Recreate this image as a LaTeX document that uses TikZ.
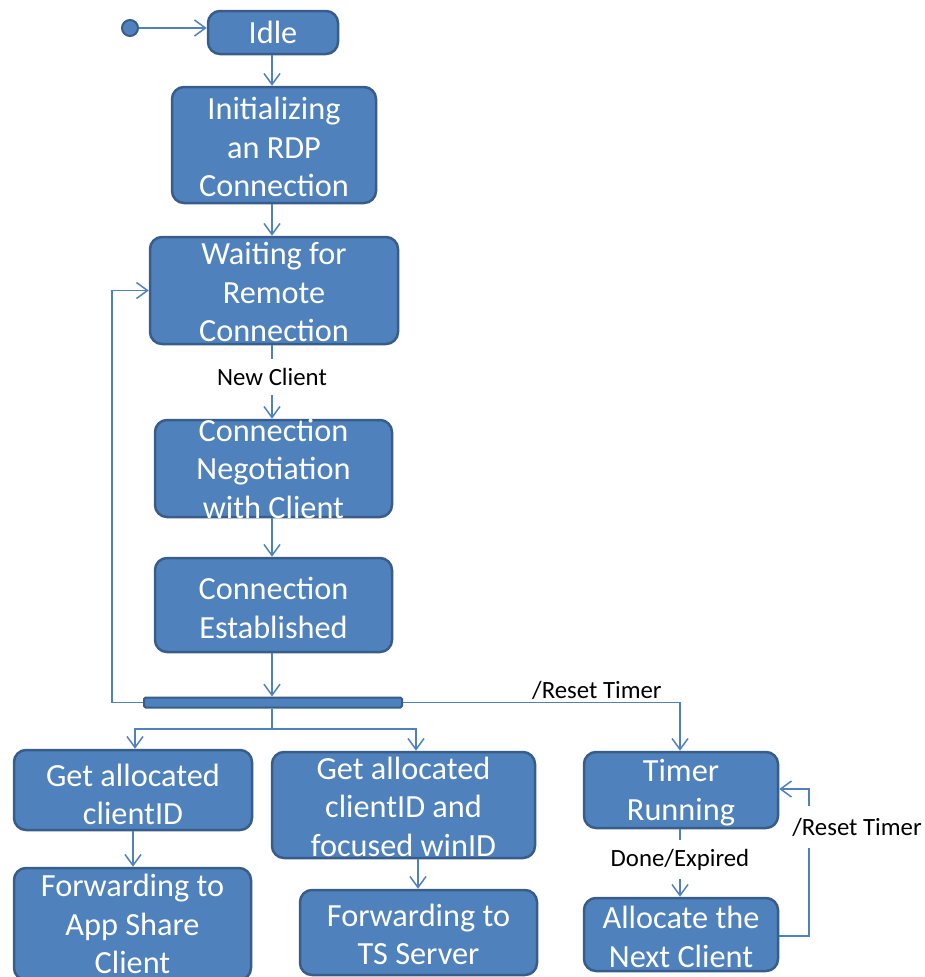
\documentclass[tikz,border=0pt]{standalone}
\usepackage{fontspec}
\setmainfont{Carlito}
\usetikzlibrary{arrows.meta,calc}
\definecolor{stfill}{HTML}{4F81BD}
\definecolor{stline}{HTML}{385D8A}
\begin{document}
\begin{tikzpicture}[x=1pt,y=-1pt,
  statebox/.style={draw=stline, line width=2.5pt, fill=stfill, rounded corners=12pt,
    inner sep=0pt},
  statetext/.style={text=white, align=center, inner sep=0pt,
    font=\fontsize{32.3}{38.5}\selectfont},
  conn/.style={draw=stfill, line width=1.5pt,
    -{Straight Barb[length=11pt,width=16pt,line width=1.5pt]}},
  plain/.style={draw=stfill, line width=1.5pt},
  evlabel/.style={text=black, font=\fontsize{24.8}{30}\selectfont, inner sep=2pt},
]
\useasboundingbox (0,0) rectangle (924,977);

% initial pseudo-state
\node[circle, draw=stline, line width=2pt, fill=stfill, minimum size=16pt, inner sep=0pt] (start) at (130,28) {};

% states (text is placed on top of each box)
\node[statebox, minimum width=130pt, minimum height=43pt] (idle) at (273,32.5) {};
\node[statetext] at (idle) {Idle};

\node[statebox, minimum width=204pt, minimum height=116pt] (init) at (274,145) {};
\node[statetext] at ([yshift=-2pt]init) {Initializing\\an RDP\\Connection};

\node[statebox, minimum width=248pt, minimum height=107pt] (wait) at (274,290.5) {};
\node[statetext] at ([yshift=-1.5pt]wait) {Waiting for\\Remote\\Connection};

\node[statebox, minimum width=237pt, minimum height=97pt] (nego) at (273.5,468.5) {};
\node[statetext] at (nego) {Connection\\Negotiation\\with Client};

\node[statebox, minimum width=237pt, minimum height=94pt] (estab) at (273.5,605) {};
\node[statetext] at ([yshift=-3pt]estab) {Connection\\Established};

% fork bar
\node[draw=stline, line width=2pt, fill=stfill, rounded corners=1.5pt,
  minimum width=258pt, minimum height=10pt, inner sep=0pt] (bar) at (273,702.5) {};

\node[statebox, minimum width=238pt, minimum height=80pt] (getA) at (133,790) {};
\node[statetext] at ([yshift=-4.5pt]getA) {Get allocated\\clientID};

\node[statebox, minimum width=263pt, minimum height=106pt] (getB) at (403.5,805) {};
\node[statetext] at ([yshift=-1.5pt]getB) {Get allocated\\clientID and\\focused winID};

\node[statebox, minimum width=194pt, minimum height=76pt] (timer) at (681,790) {};
\node[statetext] at ([yshift=-2.5pt]timer) {Timer\\Running};

\node[statebox, minimum width=237pt, minimum height=112pt] (fwdA) at (132.5,924) {};
\node[statetext] at (fwdA) {Forwarding to\\App Share\\Client};

\node[statebox, minimum width=237pt, minimum height=85pt] (fwdB) at (418.5,932.5) {};
\node[statetext] at ([yshift=-2pt]fwdB) {Forwarding to\\TS Server};

\node[statebox, minimum width=194pt, minimum height=73pt] (alloc) at (681,934.5) {};
\node[statetext] at ([yshift=-2.5pt]alloc) {Allocate the\\Next Client};

% transitions
\draw[conn] (start) -- (start -| idle.west);
\draw[conn] (idle.south -| 272,0) -- (init.north -| 272,0);
\draw[conn] (init.south -| 272,0) -- (wait.north -| 272,0);
\draw[conn] (wait.south -| 272,0) -- node[evlabel, pos=0.43, fill=white, inner ysep=9pt] (lblNew) {New Client} (nego.north -| 272,0);
\draw[conn] (nego.south -| 272,0) -- (estab.north -| 272,0);
\draw[conn] (estab.south -| 272,0) -- (bar.north -| 272,0);

% loop back to waiting
\draw[conn] (bar.west) -- ++(-31,0) |- (wait.west);

% fork branches
\coordinate (split) at (272,729);
\draw[plain] (bar.south -| split) -- (split);
\draw[conn] (split) -| (getA.north -| 135,0);
\draw[conn] (split) -| (getB.north -| 416,0);

\draw[conn] (bar.east) -| node[evlabel, pos=0.35, anchor=south] (lblReset) {/Reset Timer} (timer.north -| 680,0);

\draw[conn] (getA.south -| 133,0) -- (fwdA.north -| 133,0);
\draw[conn] (getB.south -| 418,0) -- (fwdB.north -| 418,0);
\draw[conn] (timer.south -| 680,0) -- node[evlabel, pos=0.45, fill=white, inner ysep=9pt] (lblDone) {Done/Expired} (alloc.north -| 680,0);

\coordinate (loopR) at (809,936);
\draw[conn] (alloc.east |- loopR) -- (loopR) |- node[evlabel, pos=0.37, fill=white, inner ysep=12pt, xshift=48pt] (lblReset2) {/Reset Timer} (timer.east |- 0,789);
\end{tikzpicture}
\end{document}
